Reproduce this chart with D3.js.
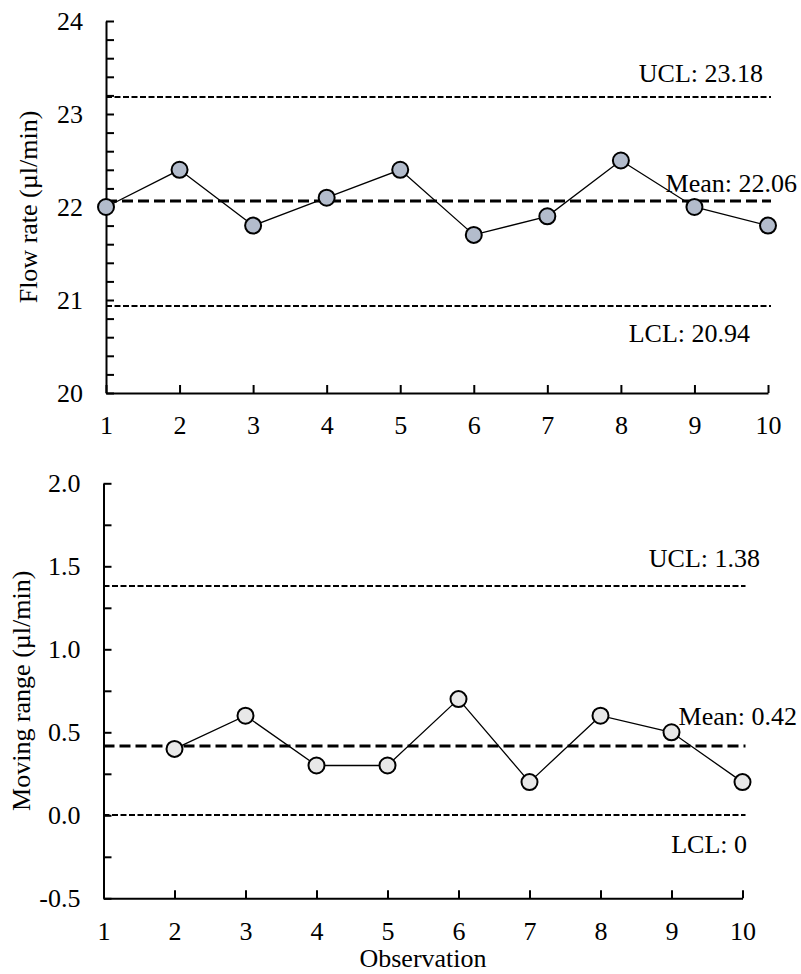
<!DOCTYPE html>
<html lang="en">
    <head>
        <meta charset="utf-8">
        <script src="https://d3js.org/d3.v7.min.js"></script>
        <title>Flow rate control chart</title>
        <style>
            body { margin: 0; background: #fff; }
            text { font-family: "Liberation Serif", "Times New Roman", serif; fill: #000; }
            .axis path, .axis line { stroke: #000; stroke-width: 2; }
            .axis text { font-size: 26px; font-family: "Liberation Serif", serif; }
        </style>
    </head>
    <body>
        <div id="chart"></div>
        <script type="text/javascript">
            // individual values
            const observations = [1, 2, 3, 4, 5, 6, 7, 8, 9, 10];
            const flowRate = [22.0, 22.4, 21.8, 22.1, 22.4, 21.7, 21.9, 22.5, 22.0, 21.8];
            const flowLimitValues = [23.18, 22.06, 20.94];
            const flowLimitLabels = ["UCL: 23.18", "Mean: 22.06", "LCL: 20.94"];
            const flowTicks = [20, 21, 22, 23, 24];

            // moving ranges
            const rangeObservations = [2, 3, 4, 5, 6, 7, 8, 9, 10];
            const movingRange = [0.4, 0.6, 0.3, 0.3, 0.7, 0.2, 0.6, 0.5, 0.2];
            const rangeLimitValues = [1.38, 0.42, 0];
            const rangeLimitLabels = ["UCL: 1.38", "Mean: 0.42", "LCL: 0"];
            const rangeTicks = [-0.5, 0.0, 0.5, 1.0, 1.5, 2.0];

            const svg = d3.select("#chart").append("svg")
                .attr("width", 801)
                .attr("height", 974);

            function drawPanel(opts) {
                const x = d3.scaleLinear().domain([1, 10]).range([opts.left, opts.right]);
                const y = d3.scaleLinear().domain(opts.domain).range([opts.bottom, opts.top]);

                const g = svg.append("g");

                // control limit lines (UCL, mean, LCL)
                opts.limits.forEach((v, i) => {
                    const isMean = i === 1;
                    const yy = Math.round(y(v));
                    g.append("line")
                        .attr("x1", x(1)).attr("x2", x(10) + 3)
                        .attr("y1", yy).attr("y2", yy)
                        .attr("stroke", "#000")
                        .attr("stroke-width", isMean ? 3 : 2.2)
                        .attr("stroke-dasharray", isMean ? "11,5" : "6,2.5");
                    const lp = opts.labelPos[i];
                    g.append("text")
                        .attr("x", lp[0])
                        .attr("y", y(v) + lp[1])
                        .attr("text-anchor", "end")
                        .style("font-size", "26px")
                        .text(opts.labels[i]);
                });

                // axes, ticks pointing inward
                const yAxis = d3.axisLeft(y)
                    .tickValues(opts.yTicks)
                    .tickSizeInner(-8)
                    .tickSizeOuter(0)
                    .tickPadding(23)
                    .tickFormat(d => opts.yMajor.some(m => Math.abs(m - d) < 1e-6) ? opts.yFormat(d) : "");
                g.append("g").attr("class", "axis")
                    .attr("transform", `translate(${opts.left},0)`)
                    .call(yAxis);

                const xAxis = d3.axisBottom(x)
                    .tickValues(observations)
                    .tickSizeInner(-8)
                    .tickSizeOuter(0)
                    .tickPadding(23)
                    .tickFormat(d3.format("d"));
                g.append("g").attr("class", "axis")
                    .attr("transform", `translate(0,${opts.bottom})`)
                    .call(xAxis);

                // y axis title
                g.append("text")
                    .attr("transform", `translate(${opts.titleX},${(opts.top + opts.bottom) / 2}) rotate(-90)`)
                    .attr("text-anchor", "middle")
                    .style("font-size", "26px")
                    .text(opts.yTitle);

                // series
                const pts = opts.xs.map((d, i) => [d, opts.ys[i]]);
                g.append("path")
                    .datum(pts)
                    .attr("fill", "none")
                    .attr("stroke", "#000")
                    .attr("stroke-width", 1.3)
                    .attr("d", d3.line().x(d => x(d[0])).y(d => y(d[1])));

                g.selectAll("circle.pt")
                    .data(pts)
                    .enter()
                    .append("circle")
                    .attr("class", "pt")
                    .attr("cx", d => x(d[0]))
                    .attr("cy", d => y(d[1]))
                    .attr("r", 8)
                    .attr("fill", opts.fill)
                    .attr("stroke", "#000")
                    .attr("stroke-width", 2);

                return { x, y };
            }

            drawPanel({
                left: 106, right: 768, top: 21, bottom: 393,
                domain: [20, 24],
                yTicks: d3.range(0, 21).map(i => 20 + i * 0.2),
                yMajor: flowTicks,
                yFormat: d => d3.format("d")(d),
                limits: flowLimitValues,
                labels: flowLimitLabels,
                labelPos: [[763, -15], [797, -9.5], [750, 36.5]],
                xs: observations,
                ys: flowRate,
                fill: "#b3bccc",
                yTitle: "Flow rate (\u00b5l/min)",
                titleX: 37
            });

            drawPanel({
                left: 103.5, right: 742.5, top: 483.3, bottom: 898.3,
                domain: [-0.5, 2.0],
                yTicks: d3.range(0, 11).map(i => -0.5 + i * 0.25),
                yMajor: rangeTicks,
                yFormat: d => d.toFixed(1),
                limits: rangeLimitValues,
                labels: rangeLimitLabels,
                labelPos: [[760, -19.5], [797, -20.5], [747, 38]],
                xs: rangeObservations,
                ys: movingRange,
                fill: "#e8e8e8",
                yTitle: "Moving range (\u00b5l/min)",
                titleX: 30
            });

            // x axis title
            svg.append("text")
                .attr("x", (103.5 + 742.5) / 2)
                .attr("y", 967)
                .attr("text-anchor", "middle")
                .style("font-size", "26px")
                .text("Observation");
        </script>
    </body>
</html>
